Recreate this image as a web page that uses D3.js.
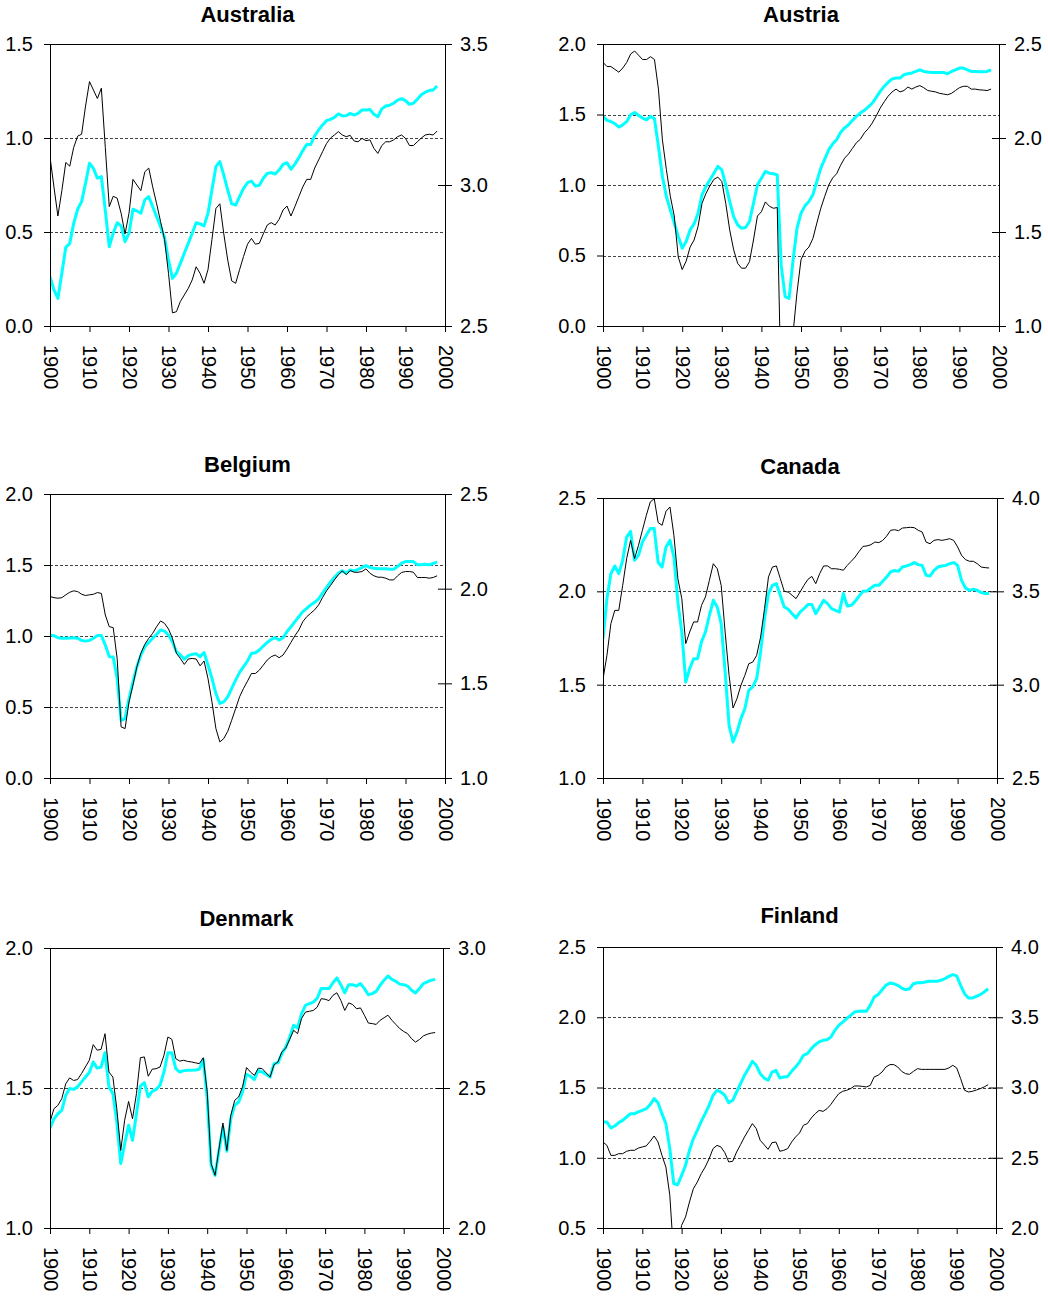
<!DOCTYPE html>
<html>
<head>
<meta charset="utf-8">
<script src="https://cdn.jsdelivr.net/npm/d3@7"></script>
<style>
  body { margin: 0; background: #fff; }
  text { font-family: "Liberation Sans", Arial, Helvetica, sans-serif; fill: #000; }
</style>
</head>
<body>
<div id="chart"></div>
<script>
// years on the x axis, one value per year
let years = d3.range(1900, 1999);
let decadeTicks = [1900, 1910, 1920, 1930, 1940, 1950, 1960, 1970, 1980, 1990, 2000];

// Australia
let ausLeftTicks = [0, 0.5, 1.0, 1.5];
let ausRightTicks = [2.5, 3.0, 3.5];
let ausBlack = [0.90, 0.74, 0.585, 0.72, 0.87, 0.85, 0.95, 1.01, 1.02, 1.17,
  1.30, 1.255, 1.21, 1.265, 0.95, 0.635, 0.69, 0.68, 0.60, 0.49,
  0.60, 0.78, 0.75, 0.72, 0.82, 0.84, 0.74, 0.65, 0.555, 0.46,
  0.28, 0.07, 0.076, 0.13, 0.165, 0.20, 0.245, 0.315, 0.28, 0.227,
  0.30, 0.46, 0.625, 0.65, 0.49, 0.35, 0.24, 0.227, 0.30, 0.37,
  0.435, 0.466, 0.435, 0.44, 0.49, 0.537, 0.55, 0.537, 0.567, 0.617,
  0.638, 0.585, 0.635, 0.688, 0.74, 0.78, 0.78, 0.84, 0.883, 0.927,
  0.97, 1.00, 1.016, 1.034, 1.016, 1.007, 1.014, 0.984, 0.98, 0.998,
  0.986, 0.99, 0.945, 0.918, 0.96, 0.98, 0.98, 0.99, 1.007, 1.016,
  0.998, 0.96, 0.96, 0.98, 1.00, 1.016, 1.02, 1.016, 1.037];
let ausCyan = [2.675, 2.628, 2.598, 2.687, 2.779, 2.793, 2.864, 2.914, 2.941, 3.006,
  3.077, 3.059, 3.024, 3.030, 2.91, 2.781, 2.829, 2.866, 2.855, 2.799,
  2.829, 2.914, 2.908, 2.90, 2.947, 2.959, 2.923, 2.888, 2.852, 2.814,
  2.734, 2.669, 2.687, 2.722, 2.758, 2.793, 2.829, 2.866, 2.862, 2.855,
  2.90, 2.982, 3.065, 3.083, 3.035, 2.982, 2.933, 2.929, 2.959, 2.988,
  3.008, 3.014, 2.996, 2.999, 3.024, 3.041, 3.044, 3.039, 3.053, 3.073,
  3.079, 3.056, 3.074, 3.097, 3.122, 3.144, 3.144, 3.174, 3.195, 3.213,
  3.228, 3.233, 3.240, 3.252, 3.245, 3.246, 3.254, 3.248, 3.254, 3.266,
  3.266, 3.268, 3.251, 3.242, 3.270, 3.280, 3.283, 3.290, 3.301, 3.306,
  3.299, 3.286, 3.290, 3.304, 3.320, 3.329, 3.335, 3.337, 3.351];

// Austria
let autLeftTicks = [0, 0.5, 1.0, 1.5, 2.0];
let autRightTicks = [1.0, 1.5, 2.0, 2.5];
let autBlack = [1.87, 1.84, 1.84, 1.82, 1.80, 1.83, 1.87, 1.93, 1.95, 1.92,
  1.89, 1.89, 1.91, 1.89, 1.68, 1.32, 1.11, 0.92, 0.78, 0.49,
  0.40, 0.46, 0.56, 0.61, 0.705, 0.87, 0.94, 0.994, 1.04, 1.056,
  1.025, 0.87, 0.68, 0.54, 0.445, 0.41, 0.41, 0.457, 0.61, 0.78,
  0.81, 0.88, 0.85, 0.835, 0.84, -0.5, -0.5, -0.5, -0.05, 0.24,
  0.47, 0.53, 0.56, 0.62, 0.73, 0.835, 0.92, 1.00, 1.05, 1.08,
  1.14, 1.19, 1.22, 1.26, 1.30, 1.325, 1.37, 1.40, 1.44, 1.49,
  1.545, 1.59, 1.63, 1.66, 1.68, 1.66, 1.67, 1.695, 1.68, 1.695,
  1.705, 1.69, 1.67, 1.665, 1.66, 1.65, 1.645, 1.64, 1.65, 1.67,
  1.69, 1.70, 1.70, 1.68, 1.68, 1.675, 1.673, 1.67, 1.68];
let autCyan = [2.115, 2.094, 2.088, 2.076, 2.058, 2.070, 2.088, 2.124, 2.136, 2.120,
  2.106, 2.097, 2.115, 2.102, 1.955, 1.795, 1.689, 1.618, 1.547, 1.476,
  1.414, 1.449, 1.511, 1.543, 1.600, 1.698, 1.742, 1.778, 1.813, 1.849,
  1.831, 1.751, 1.662, 1.582, 1.538, 1.520, 1.524, 1.556, 1.653, 1.751,
  1.786, 1.822, 1.813, 1.810, 1.804, 1.32, 1.156, 1.147, 1.351, 1.520,
  1.600, 1.639, 1.662, 1.698, 1.769, 1.840, 1.888, 1.937, 1.969, 1.991,
  2.030, 2.053, 2.070, 2.094, 2.115, 2.133, 2.147, 2.165, 2.186, 2.216,
  2.248, 2.275, 2.296, 2.314, 2.319, 2.319, 2.337, 2.342, 2.346, 2.354,
  2.363, 2.354, 2.351, 2.349, 2.349, 2.349, 2.349, 2.342, 2.354, 2.363,
  2.372, 2.372, 2.363, 2.354, 2.354, 2.353, 2.353, 2.354, 2.363];

// Belgium
let belLeftTicks = [0, 0.5, 1.0, 1.5, 2.0];
let belRightTicks = [1.0, 1.5, 2.0, 2.5];
let belBlack = [1.278, 1.27, 1.266, 1.27, 1.29, 1.308, 1.318, 1.313, 1.294, 1.285,
  1.29, 1.294, 1.306, 1.30, 1.148, 1.066, 1.059, 0.842, 0.36, 0.348,
  0.536, 0.654, 0.784, 0.878, 0.941, 0.984, 1.019, 1.066, 1.106, 1.089,
  1.049, 0.984, 0.878, 0.842, 0.80, 0.838, 0.842, 0.838, 0.79, 0.824,
  0.70, 0.536, 0.348, 0.254, 0.278, 0.329, 0.407, 0.489, 0.572, 0.631,
  0.682, 0.736, 0.736, 0.76, 0.795, 0.831, 0.854, 0.866, 0.847, 0.866,
  0.908, 0.955, 1.002, 1.042, 1.101, 1.136, 1.16, 1.184, 1.219, 1.271,
  1.318, 1.355, 1.395, 1.431, 1.459, 1.431, 1.461, 1.449, 1.449, 1.454,
  1.473, 1.442, 1.424, 1.414, 1.414, 1.407, 1.395, 1.395, 1.424, 1.447,
  1.454, 1.454, 1.449, 1.412, 1.412, 1.412, 1.407, 1.412, 1.424];
let belCyan = [1.755, 1.752, 1.741, 1.738, 1.738, 1.739, 1.741, 1.738, 1.727, 1.723,
  1.727, 1.738, 1.752, 1.752, 1.702, 1.641, 1.639, 1.526, 1.305, 1.314,
  1.42, 1.508, 1.588, 1.649, 1.693, 1.716, 1.738, 1.759, 1.782, 1.776,
  1.755, 1.72, 1.667, 1.649, 1.628, 1.646, 1.653, 1.656, 1.641, 1.663,
  1.596, 1.526, 1.446, 1.394, 1.402, 1.429, 1.473, 1.517, 1.558, 1.588,
  1.618, 1.658, 1.662, 1.676, 1.697, 1.716, 1.732, 1.741, 1.729, 1.741,
  1.773, 1.799, 1.826, 1.852, 1.879, 1.896, 1.914, 1.928, 1.946, 1.976,
  2.006, 2.034, 2.059, 2.082, 2.094, 2.082, 2.099, 2.094, 2.101, 2.112,
  2.122, 2.112, 2.108, 2.105, 2.105, 2.105, 2.103, 2.103, 2.117, 2.135,
  2.143, 2.143, 2.143, 2.126, 2.126, 2.129, 2.126, 2.133, 2.14];

// Canada
let canLeftTicks = [1.0, 1.5, 2.0, 2.5];
let canRightTicks = [2.5, 3.0, 3.5, 4.0];
let canBlack = [1.53, 1.657, 1.827, 1.898, 1.898, 2.032, 2.175, 2.273, 2.175, 2.246,
  2.327, 2.407, 2.479, 2.496, 2.368, 2.354, 2.429, 2.452, 2.30, 2.068,
  1.961, 1.72, 1.782, 1.836, 1.836, 1.925, 1.97, 2.059, 2.148, 2.121,
  2.032, 1.782, 1.55, 1.375, 1.425, 1.496, 1.55, 1.612, 1.621, 1.657,
  1.755, 1.907, 2.077, 2.13, 2.136, 2.068, 2.00, 1.996, 1.979, 1.961,
  1.996, 2.032, 2.064, 2.08, 2.041, 2.095, 2.136, 2.136, 2.121, 2.121,
  2.118, 2.113, 2.139, 2.161, 2.184, 2.214, 2.241, 2.243, 2.25, 2.264,
  2.261, 2.273, 2.296, 2.327, 2.33, 2.325, 2.339, 2.341, 2.343, 2.341,
  2.327, 2.318, 2.264, 2.255, 2.273, 2.277, 2.273, 2.277, 2.282, 2.273,
  2.238, 2.193, 2.17, 2.161, 2.161, 2.148, 2.13, 2.127, 2.125];
let canCyan = [3.246, 3.461, 3.595, 3.636, 3.595, 3.666, 3.791, 3.821, 3.666, 3.693,
  3.764, 3.80, 3.836, 3.836, 3.654, 3.630, 3.738, 3.773, 3.684, 3.443,
  3.282, 3.014, 3.086, 3.139, 3.139, 3.229, 3.282, 3.371, 3.452, 3.416,
  3.327, 3.068, 2.782, 2.693, 2.746, 2.818, 2.871, 2.97, 2.988, 3.032,
  3.175, 3.354, 3.488, 3.532, 3.541, 3.479, 3.416, 3.404, 3.380, 3.357,
  3.389, 3.407, 3.429, 3.430, 3.380, 3.416, 3.452, 3.434, 3.407, 3.398,
  3.389, 3.488, 3.421, 3.425, 3.446, 3.475, 3.50, 3.502, 3.518, 3.532,
  3.532, 3.554, 3.577, 3.604, 3.612, 3.607, 3.63, 3.636, 3.643, 3.654,
  3.643, 3.639, 3.586, 3.582, 3.612, 3.63, 3.636, 3.639, 3.648, 3.654,
  3.639, 3.559, 3.518, 3.505, 3.511, 3.505, 3.493, 3.488, 3.488];

// Denmark
let denLeftTicks = [1.0, 1.5, 2.0];
let denRightTicks = [2.0, 2.5, 3.0];
let denBlack = [1.379, 1.426, 1.438, 1.462, 1.515, 1.536, 1.527, 1.53, 1.551, 1.575,
  1.599, 1.655, 1.635, 1.638, 1.694, 1.557, 1.539, 1.426, 1.277, 1.385,
  1.452, 1.39, 1.48, 1.608, 1.611, 1.542, 1.567, 1.569, 1.575, 1.617,
  1.682, 1.674, 1.605, 1.596, 1.599, 1.595, 1.593, 1.59, 1.587, 1.608,
  1.486, 1.23, 1.188, 1.283, 1.375, 1.277, 1.402, 1.456, 1.468, 1.504,
  1.573, 1.557, 1.545, 1.571, 1.569, 1.554, 1.539, 1.583, 1.593, 1.629,
  1.643, 1.674, 1.706, 1.694, 1.748, 1.771, 1.774, 1.777, 1.789, 1.819,
  1.817, 1.812, 1.831, 1.840, 1.813, 1.777, 1.804, 1.798, 1.783, 1.786,
  1.76, 1.732, 1.730, 1.727, 1.742, 1.751, 1.76, 1.742, 1.727, 1.712,
  1.702, 1.694, 1.676, 1.664, 1.673, 1.686, 1.692, 1.696, 1.698];
let denCyan = [2.357, 2.39, 2.408, 2.42, 2.474, 2.498, 2.495, 2.504, 2.521, 2.539,
  2.555, 2.593, 2.571, 2.575, 2.626, 2.504, 2.48, 2.379, 2.23, 2.301,
  2.367, 2.313, 2.408, 2.507, 2.519, 2.468, 2.488, 2.495, 2.51, 2.557,
  2.626, 2.626, 2.569, 2.557, 2.562, 2.563, 2.563, 2.564, 2.567, 2.602,
  2.462, 2.224, 2.188, 2.277, 2.361, 2.274, 2.39, 2.438, 2.45, 2.486,
  2.549, 2.542, 2.53, 2.563, 2.557, 2.548, 2.539, 2.587, 2.590, 2.623,
  2.646, 2.682, 2.724, 2.714, 2.765, 2.795, 2.801, 2.807, 2.821, 2.855,
  2.855, 2.855, 2.876, 2.893, 2.869, 2.840, 2.869, 2.869, 2.864, 2.873,
  2.855, 2.833, 2.837, 2.845, 2.867, 2.885, 2.90, 2.888, 2.881, 2.871,
  2.869, 2.864, 2.849, 2.839, 2.855, 2.873, 2.879, 2.885, 2.888];

// Finland
let finLeftTicks = [0.5, 1.0, 1.5, 2.0, 2.5];
let finRightTicks = [2.0, 2.5, 3.0, 3.5, 4.0];
let finBlack = [1.112, 1.088, 1.017, 1.017, 1.029, 1.029, 1.046, 1.053, 1.053, 1.069,
  1.077, 1.084, 1.117, 1.155, 1.112, 1.017, 0.934, 0.733, 0.30, 0.35,
  0.519, 0.578, 0.685, 0.78, 0.827, 0.887, 0.934, 0.993, 1.065, 1.088,
  1.077, 1.036, 0.97, 0.975, 1.041, 1.093, 1.148, 1.195, 1.243, 1.207,
  1.124, 1.093, 1.06, 1.107, 1.112, 1.046, 1.053, 1.065, 1.112, 1.148,
  1.176, 1.231, 1.243, 1.283, 1.314, 1.337, 1.330, 1.349, 1.38, 1.42,
  1.456, 1.473, 1.48, 1.492, 1.511, 1.511, 1.508, 1.504, 1.515, 1.575,
  1.587, 1.61, 1.646, 1.663, 1.663, 1.646, 1.615, 1.598, 1.594, 1.615,
  1.634, 1.629, 1.629, 1.629, 1.629, 1.629, 1.629, 1.629, 1.639, 1.658,
  1.639, 1.563, 1.48, 1.468, 1.473, 1.482, 1.492, 1.504, 1.52];
let finCyan = [2.754, 2.754, 2.712, 2.726, 2.75, 2.766, 2.79, 2.814, 2.814, 2.826,
  2.837, 2.849, 2.878, 2.921, 2.892, 2.814, 2.743, 2.565, 2.316, 2.308,
  2.375, 2.446, 2.553, 2.636, 2.695, 2.759, 2.814, 2.873, 2.944, 2.98,
  2.968, 2.944, 2.892, 2.909, 2.968, 3.027, 3.087, 3.134, 3.186, 3.158,
  3.098, 3.068, 3.051, 3.110, 3.122, 3.068, 3.075, 3.079, 3.115, 3.146,
  3.181, 3.229, 3.241, 3.276, 3.305, 3.324, 3.336, 3.340, 3.359, 3.407,
  3.442, 3.466, 3.490, 3.514, 3.537, 3.542, 3.544, 3.542, 3.585, 3.644,
  3.661, 3.696, 3.727, 3.744, 3.739, 3.727, 3.708, 3.696, 3.703, 3.739,
  3.746, 3.746, 3.751, 3.756, 3.756, 3.756, 3.763, 3.775, 3.791, 3.803,
  3.794, 3.727, 3.668, 3.637, 3.637, 3.649, 3.661, 3.680, 3.703];

// panel placement on the page
let panels = [
  {name: "Australia", black: ausBlack, cyan: ausCyan, lt: ausLeftTicks, rt: ausRightTicks, x0: 50, x1: 445, y0: 44, y1: 326, ty: 22},
  {name: "Austria", black: autBlack, cyan: autCyan, lt: autLeftTicks, rt: autRightTicks, x0: 603, x1: 999, y0: 44, y1: 326, ty: 22},
  {name: "Belgium", black: belBlack, cyan: belCyan, lt: belLeftTicks, rt: belRightTicks, x0: 50, x1: 445, y0: 494, y1: 778, ty: 472},
  {name: "Canada", black: canBlack, cyan: canCyan, lt: canLeftTicks, rt: canRightTicks, x0: 603, x1: 997, y0: 498, y1: 778, ty: 474},
  {name: "Denmark", black: denBlack, cyan: denCyan, lt: denLeftTicks, rt: denRightTicks, x0: 50, x1: 443, y0: 948, y1: 1228, ty: 926},
  {name: "Finland", black: finBlack, cyan: finCyan, lt: finLeftTicks, rt: finRightTicks, x0: 603, x1: 996, y0: 947, y1: 1228, ty: 923}
];

let svg = d3.select("#chart")
            .append("svg")
            .attr("width", 1048)
            .attr("height", 1299);

panels.forEach(function(p, i){
    let g = svg.append("g");

    let x = d3.scaleLinear().domain([1900, 2000]).range([p.x0, p.x1]);
    let yL = d3.scaleLinear().domain(d3.extent(p.lt)).range([p.y1, p.y0]);
    let yR = d3.scaleLinear().domain(d3.extent(p.rt)).range([p.y1, p.y0]);

    g.append("clipPath")
     .attr("id", "clip" + i)
     .append("rect")
     .attr("x", p.x0)
     .attr("y", p.y0)
     .attr("width", p.x1 - p.x0)
     .attr("height", p.y1 - p.y0);

    // dashed gridlines at the inner left ticks
    g.selectAll(".grid")
     .data(p.lt.slice(1, -1))
     .enter()
     .append("line")
     .attr("x1", p.x0)
     .attr("x2", p.x1)
     .attr("y1", function(d){ return Math.round(yL(d)) + 0.5; })
     .attr("y2", function(d){ return Math.round(yL(d)) + 0.5; })
     .attr("stroke", "#444")
     .attr("stroke-width", 1)
     .attr("stroke-dasharray", "3,2");

    // solid top border
    g.append("line")
     .attr("x1", p.x0)
     .attr("x2", p.x1)
     .attr("y1", Math.round(yL(p.lt[p.lt.length - 1])) + 0.5)
     .attr("y2", Math.round(yL(p.lt[p.lt.length - 1])) + 0.5)
     .attr("stroke", "#000");

    let lines = g.append("g").attr("clip-path", "url(#clip" + i + ")");

    lines.append("path")
         .datum(p.cyan)
         .attr("fill", "none")
         .attr("stroke", "#00ffff")
         .attr("stroke-width", 3)
         .attr("stroke-linejoin", "round")
         .attr("d", d3.line()
                      .x(function(d, j){ return x(years[j]); })
                      .y(function(d){ return yR(d); }));

    lines.append("path")
         .datum(p.black)
         .attr("fill", "none")
         .attr("stroke", "#000")
         .attr("stroke-width", 1)
         .attr("d", d3.line()
                      .x(function(d, j){ return x(years[j]); })
                      .y(function(d){ return yL(d); }));

    // left axis
    g.append("g")
     .attr("transform", "translate(" + p.x0 + ",0)")
     .call(d3.axisLeft(yL).tickValues(p.lt).tickFormat(d3.format(".1f"))
             .tickSizeInner(6).tickSizeOuter(0).tickPadding(11))
     .call(styleAxis);

    // right axis, ticks cross the line
    g.append("g")
     .attr("transform", "translate(" + p.x1 + ",0)")
     .call(d3.axisRight(yR).tickValues(p.rt).tickFormat(d3.format(".1f"))
             .tickSizeInner(7).tickSizeOuter(0).tickPadding(8))
     .call(styleAxis)
     .call(function(a){ a.selectAll(".tick line").attr("x1", -7); });

    // bottom axis with rotated years
    g.append("g")
     .attr("transform", "translate(0," + p.y1 + ")")
     .call(d3.axisBottom(x).tickValues(decadeTicks).tickFormat(d3.format("d"))
             .tickSizeInner(6).tickSizeOuter(0))
     .call(styleAxis)
     .call(function(a){
         a.selectAll(".tick text")
          .attr("transform", "rotate(90)")
          .attr("x", 19)
          .attr("y", 0)
          .attr("dy", "0.35em")
          .style("text-anchor", "start");
     });

    g.append("text")
     .attr("x", (p.x0 + p.x1) / 2)
     .attr("y", p.ty)
     .attr("text-anchor", "middle")
     .style("font-size", "22px")
     .style("font-weight", "bold")
     .text(p.name);
});

function styleAxis(a){
    a.selectAll(".domain").attr("stroke", "#000");
    a.selectAll(".tick line").attr("stroke", "#000");
    a.selectAll(".tick text")
     .style("font-size", "20px")
     .style("font-family", "'Liberation Sans', Arial, sans-serif")
     .attr("fill", "#000");
}
</script>
</body>
</html>
